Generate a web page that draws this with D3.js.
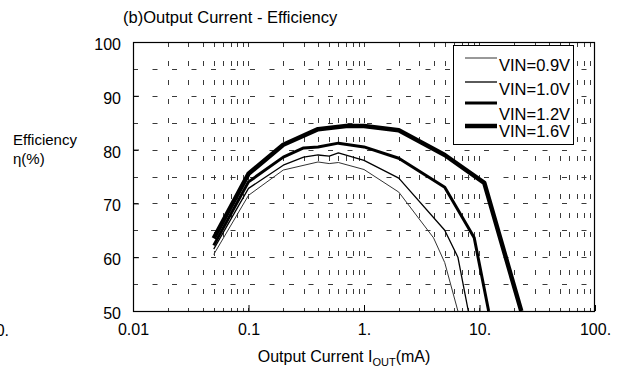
<!DOCTYPE html>
<html>
<head>
<meta charset="utf-8">
<script src="https://cdn.jsdelivr.net/npm/d3@7"></script>
<style>
  html, body { margin: 0; padding: 0; background: #fff; }
  svg { display: block; font-family: "Liberation Sans", Arial, sans-serif; }
</style>
</head>
<body>
<svg id="chart" width="619" height="372"></svg>
<script>
// ---- data ----
const seriesNames = ["VIN=0.9V", "VIN=1.0V", "VIN=1.2V", "VIN=1.6V"];
const current09 = [0.05, 0.1, 0.2, 0.4, 0.5, 0.6, 1, 2, 4, 5, 6.5];
const eff09     = [60.5, 71.5, 76.2, 77.7, 77.4, 77.6, 76.3, 72.1, 63.6, 59, 50];
const current10 = [0.05, 0.1, 0.2, 0.3, 0.4, 0.5, 0.6, 1, 2, 5, 6.5, 8];
const eff10     = [61.5, 72.8, 77.1, 78.6, 79.0, 78.8, 79.4, 78, 74.7, 65, 60, 50];
const current12 = [0.05, 0.1, 0.2, 0.3, 0.4, 0.6, 1, 2, 5, 9, 12];
const eff12     = [62.2, 74, 78.6, 80.3, 80.5, 81.2, 80.5, 78.4, 73, 63.6, 50];
const current16 = [0.05, 0.1, 0.2, 0.4, 0.7, 1, 2, 5, 11, 23];
const eff16     = [63.5, 75.5, 80.9, 83.8, 84.4, 84.4, 83.6, 79, 73.8, 50];
const xTickValues = [0.01, 0.1, 1, 10, 100];
const xTickLabels = ["0.01", "0.1", "1.", "10.", "100."];
const yTickValues = [50, 60, 70, 80, 90, 100];
const yGridValues = [55, 60, 65, 70, 75, 80, 85, 90, 95];

// ---- layout ----
const svg = d3.select("#chart");
const L = 133, R = 595, T = 42, B = 311;
const x = d3.scaleLog().domain([0.01, 100]).range([L, R]);
const y = d3.scaleLinear().domain([50, 100]).range([B, T]);

// vertical grid values (1..9 x decade, excluding frame edges)
const xGridValues = [];
[0.01, 0.1, 1, 10].forEach(d => { for (let k = 1; k <= 9; k++) { const v = +(k * d).toPrecision(3); if (v > 0.01 && v < 100) xGridValues.push(v); } });

const grid = svg.append("g").attr("stroke", "#3a3a3a").attr("stroke-width", 1).attr("fill", "none");
grid.selectAll("line.v").data(xGridValues).join("line")
  .attr("class", "v")
  .attr("x1", d => Math.round(x(d)) + 0.5).attr("x2", d => Math.round(x(d)) + 0.5)
  .attr("y1", T).attr("y2", B)
  .attr("stroke-dasharray", "5,14");
grid.selectAll("line.h").data(yGridValues).join("line")
  .attr("class", "h")
  .attr("y1", d => Math.round(y(d)) + 0.5).attr("y2", d => Math.round(y(d)) + 0.5)
  .attr("x1", L).attr("x2", R)
  .attr("stroke-dasharray", "5,14.5");

// ---- axes ----
const xAxis = d3.axisBottom(x).tickValues(xTickValues)
  .tickFormat((d, i) => xTickLabels[i]).tickSize(-6).tickPadding(13);
const gx = svg.append("g").attr("transform", `translate(0,${B})`).call(xAxis);
gx.select(".domain").remove();
gx.selectAll("text").attr("font-size", 16).attr("font-family", "Liberation Sans, Arial, sans-serif").attr("fill", "#000");
gx.selectAll("line").attr("stroke", "#000");

const yAxis = d3.axisLeft(y).tickValues(yTickValues).tickSize(-6).tickPadding(12);
const gy = svg.append("g").attr("transform", `translate(${L},0)`).call(yAxis);
gy.select(".domain").remove();
gy.selectAll("text").attr("font-size", 16).attr("dy", "0.47em").attr("font-family", "Liberation Sans, Arial, sans-serif").attr("fill", "#000");
gy.selectAll("line").attr("stroke", "#000");

// stray clipped label at far left
svg.append("text").attr("x", 9).attr("y", 336).attr("text-anchor", "end")
  .attr("font-size", 16).text("0.");

// ---- curves ----
const series = [
  { name: seriesNames[0], xs: current09, ys: eff09, w: 1, c: "#333" },
  { name: seriesNames[1], xs: current10, ys: eff10, w: 1.3, c: "#000" },
  { name: seriesNames[2], xs: current12, ys: eff12, w: 3, c: "#000" },
  { name: seriesNames[3], xs: current16, ys: eff16, w: 4.5, c: "#000" }
];
svg.append("clipPath").attr("id", "plotclip").append("rect")
  .attr("x", L).attr("y", T).attr("width", R - L).attr("height", B - T);
const line = d3.line().x(d => x(d[0])).y(d => y(d[1]));
svg.append("g").attr("clip-path", "url(#plotclip)")
  .selectAll("path").data(series).join("path")
  .attr("d", s => line(s.xs.map((v, i) => [v, s.ys[i]])))
  .attr("fill", "none").attr("stroke", s => s.c).attr("stroke-width", s => s.w)
  .attr("stroke-linejoin", "round");

// ---- frame ----
svg.append("rect").attr("x", L + 0.5).attr("y", T + 0.5).attr("width", R - L - 1).attr("height", B - T)
  .attr("fill", "none").attr("stroke", "#000").attr("stroke-width", 1.2);

// ---- legend ----
const lg = svg.append("g");
lg.append("rect").attr("x", 453.5).attr("y", 45.5).attr("width", 120).attr("height", 99)
  .attr("fill", "#fff").attr("stroke", "#000").attr("stroke-width", 1);
const legLineY = [58, 82, 103, 126];
const legTextY = [71, 95, 120, 137];
series.forEach((s, i) => {
  lg.append("line").attr("x1", 465).attr("x2", 497).attr("y1", legLineY[i]).attr("y2", legLineY[i])
    .attr("stroke", s.c).attr("stroke-width", s.w);
  lg.append("text").attr("x", 499).attr("y", legTextY[i]).attr("font-size", 16.5).text(s.name);
});

// ---- titles ----
svg.append("text").attr("x", 123).attr("y", 23).attr("font-size", 16.5)
  .text("(b)Output Current - Efficiency");
svg.append("text").attr("x", 13).attr("y", 145).attr("font-size", 15).text("Efficiency");
svg.append("text").attr("x", 13).attr("y", 164).attr("font-size", 15).text("η(%)");
const xt = svg.append("text").attr("x", 344).attr("y", 362).attr("text-anchor", "middle").attr("font-size", 16);
xt.append("tspan").text("Output Current I");
xt.append("tspan").attr("font-size", 11).attr("dy", 4).text("OUT");
xt.append("tspan").attr("dy", -4).text("(mA)");
</script>
</body>
</html>
